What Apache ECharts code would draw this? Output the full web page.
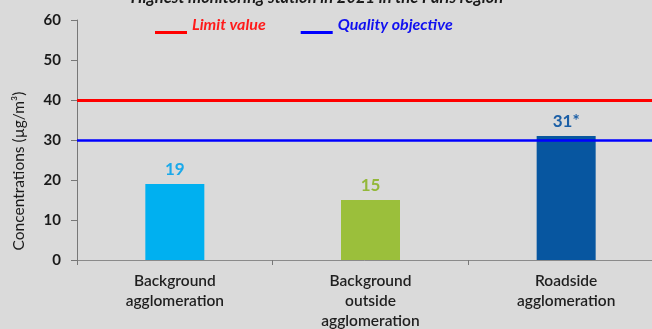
<!DOCTYPE html>
<html>
<head>
<meta charset="utf-8">
<script src="https://cdn.jsdelivr.net/npm/echarts@6/dist/echarts.min.js"></script>
<style>
  html, body { margin: 0; padding: 0; background: #dadada; }
  #chart { width: 652px; height: 329px; }
</style>
</head>
<body>
<div id="chart"></div>
<script>
// Station categories and annual mean concentrations (µg/m³)
const categories = ['Background\nagglomeration', 'Background\noutside\nagglomeration', 'Roadside\nagglomeration'];
const concentrations = [19, 15, 31];
const valueSuffix = ['', '', '*'];
const barColors = ['#00b0f0', '#9bbf3b', '#0756a0'];
const labelColors = ['#1aa9ea', '#93b83a', '#1a5ea6'];

// Reference thresholds
const limitValue = 40;
const qualityObjective = 30;

// Y axis ticks
const yMin = 0, yMax = 60, yStep = 10;

const FONT = 'Lato, "Open Sans", sans-serif';

// Legend key: a short bar sitting below the text's middle
// (the tiny square at the origin only sets the icon's bounding box)
const LEGEND_ICON = 'path://M0,0h0.01v0.01h-0.01z M0,15h32v3h-32z';

const thresholdSeries = (name, value, color, width) => ({
  name: name, type: 'line', data: [],
  symbol: 'none', color: color,
  itemStyle: { color: color },
  lineStyle: { color: color, width: width },
  markLine: {
    silent: true, symbol: 'none', label: { show: false },
    lineStyle: { color: color, width: width, type: 'solid' },
    data: [{ yAxis: value }]
  },
  z: 3
});

const chart = echarts.init(document.getElementById('chart'));

chart.setOption({
  backgroundColor: '#dadada',
  animation: false,
  title: {
    text: 'Highest monitoring station in 2021 in the Paris region',
    left: 312, top: -16, textAlign: 'center',
    textStyle: { fontFamily: FONT, fontSize: 16.5, fontWeight: 'bold', fontStyle: 'italic', color: '#1a1a1a' }
  },
  legend: {
    data: [
      { name: 'Limit value', icon: LEGEND_ICON, textStyle: { color: '#ff1a1a' } },
      { name: 'Quality objective', icon: LEGEND_ICON, textStyle: { color: '#1010f0' } }
    ],
    left: 150, top: 11,
    itemWidth: 32, itemHeight: 18, itemGap: 35,
    textStyle: {
      fontFamily: FONT, fontSize: 16, fontWeight: 'bold', fontStyle: 'italic'
    }
  },
  graphic: [{
    type: 'text',
    x: 18.5, y: 171,
    rotation: Math.PI / 2,
    style: {
      text: 'Concentrations (µg/m³)',
      fontFamily: FONT, fontSize: 15.5, fill: '#1a1a1a',
      textAlign: 'center', textVerticalAlign: 'middle'
    }
  }],
  grid: {
    left: 77, right: -12, top: 20, bottom: 69,
    containLabel: false, outerBoundsMode: 'none'
  },
  xAxis: {
    type: 'category', data: categories,
    axisLine: { show: true, lineStyle: { color: '#8a8a8a', width: 1 } },
    axisTick: { show: true, length: 5, lineStyle: { color: '#777' }, interval: 0 },
    axisLabel: { fontFamily: FONT, fontSize: 15.5, fontWeight: 600, color: '#1f1f1f', lineHeight: 20, margin: 11, interval: 0 }
  },
  yAxis: {
    type: 'value', min: yMin, max: yMax, interval: yStep,
    axisLine: { show: true, lineStyle: { color: '#777' } },
    axisTick: { show: true, length: 6, lineStyle: { color: '#777' } },
    axisLabel: { fontFamily: FONT, fontSize: 15, fontWeight: 'bold', color: '#1a1a1a', margin: 16 },
    splitLine: { show: false }
  },
  series: [{
    type: 'bar',
    barWidth: 59,
    data: concentrations.map((v, i) => ({
      value: v,
      itemStyle: { color: barColors[i] },
      label: { color: labelColors[i] }
    })),
    label: {
      show: true, position: 'top', distance: 6,
      fontFamily: FONT, fontSize: 17, fontWeight: 'bold',
      formatter: p => p.value + valueSuffix[p.dataIndex]
    },
    z: 2
  },
  thresholdSeries('Limit value', limitValue, '#ff0000', 3),
  thresholdSeries('Quality objective', qualityObjective, '#0000ff', 2.5)
  ]
});
</script>
</body>
</html>
